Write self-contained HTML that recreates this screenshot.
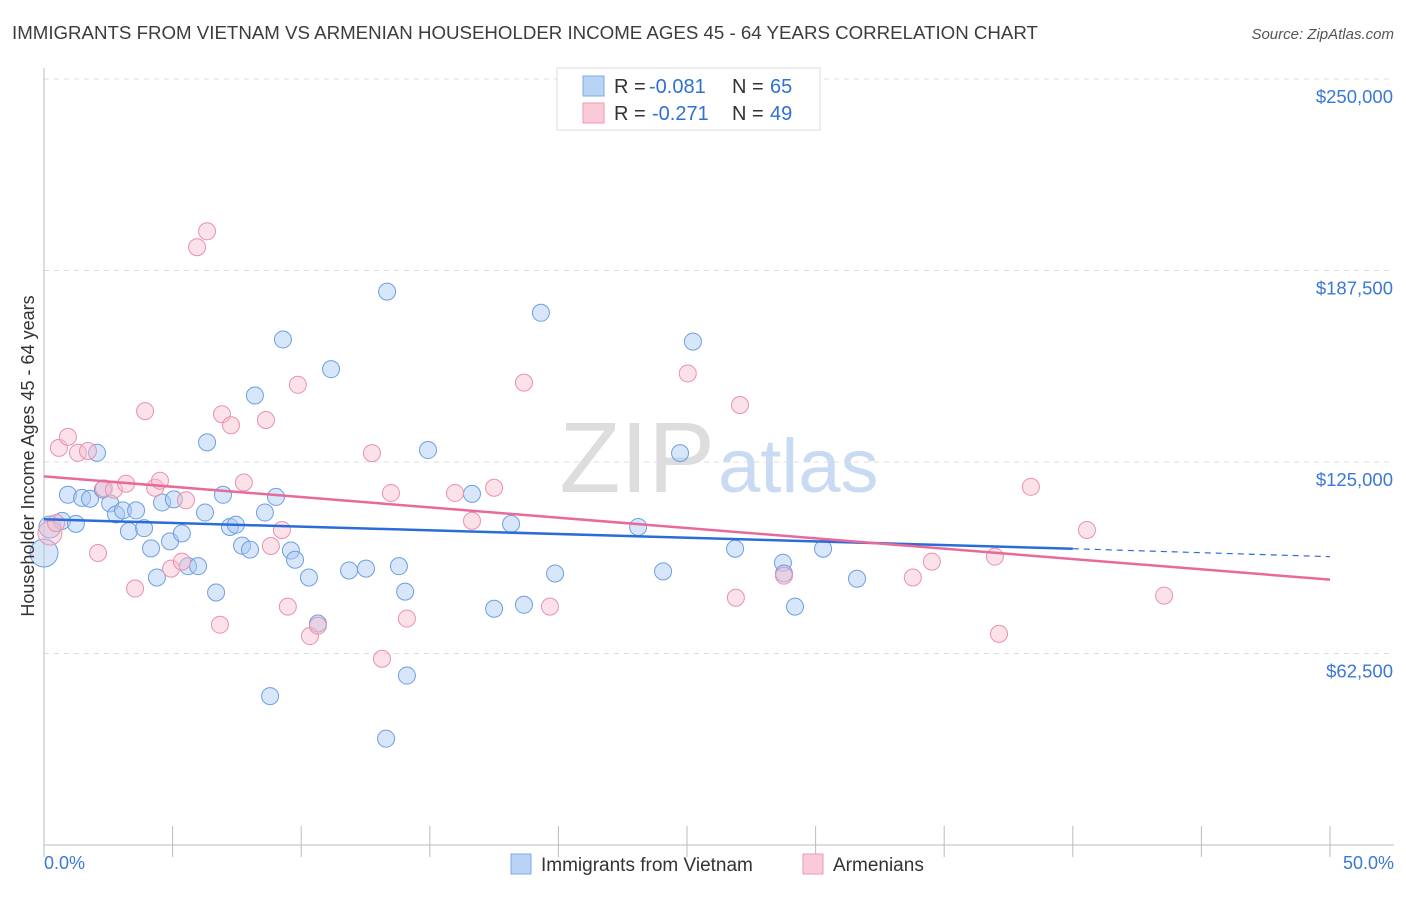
<!DOCTYPE html>
<html><head><meta charset="utf-8"><style>
body{margin:0;background:#fff;font-family:"Liberation Sans",sans-serif;}
svg text{font-family:"Liberation Sans",sans-serif;}
</style></head><body>
<svg id="c" width="1406" height="892">
<text x="12" y="39" font-size="18.7" fill="#3c3c3c">IMMIGRANTS FROM VIETNAM VS ARMENIAN HOUSEHOLDER INCOME AGES 45 - 64 YEARS CORRELATION CHART</text>
<text x="1394" y="39" font-size="15" fill="#555" font-style="italic" text-anchor="end">Source: ZipAtlas.com</text>
<text x="715" y="492" font-size="100" fill="#ddd" text-anchor="end" font-family="Liberation Serif">ZIP</text>
<text x="718" y="492" font-size="76" fill="#c8dbf2">atlas</text>
<g id="grid"></g><g id="axes"></g><g id="pts"></g><g id="lines"></g>
<text transform="translate(34,456) rotate(-90)" font-size="18" fill="#333" text-anchor="middle">Householder Income Ages 45 - 64 years</text>
<text x="44" y="869" font-size="18" fill="#3a78d8">0.0%</text>
<text x="1394" y="869" font-size="18" fill="#3a78d8" text-anchor="end">50.0%</text>
<g>
<rect x="557" y="68" width="263" height="62" fill="#fff" stroke="#ddd"/>
<rect x="583" y="76" width="21" height="20" fill="#b9d3f5" stroke="#7ea9e6"/>
<rect x="583" y="103" width="21" height="20" fill="#fbcad8" stroke="#ee9ab6"/>
<text x="614" y="93" font-size="20" fill="#333">R =</text>
<text x="649" y="93" font-size="20" fill="#2f6fd6">-0.081</text>
<text x="732" y="93" font-size="20" fill="#333">N =</text>
<text x="770" y="93" font-size="20" fill="#2f6fd6">65</text>
<text x="614" y="120" font-size="20" fill="#333">R =</text>
<text x="652" y="120" font-size="20" fill="#2f6fd6">-0.271</text>
<text x="732" y="120" font-size="20" fill="#333">N =</text>
<text x="770" y="120" font-size="20" fill="#2f6fd6">49</text>
</g>
<g>
<rect x="511" y="854" width="20" height="20" fill="#b9d3f5" stroke="#7ea9e6"/>
<text x="541" y="871" font-size="19" fill="#333">Immigrants from Vietnam</text>
<rect x="803" y="854" width="20" height="20" fill="#fbcad8" stroke="#ee9ab6"/>
<text x="833" y="871" font-size="19" fill="#333">Armenians</text>
</g>
</svg>
<script>
const yTicks=[62500,125000,187500,250000];
const yTickLabels=["$62,500","$125,000","$187,500","$250,000"];
const blueX=[0.23,0,0.7,0.93,1.24,1.48,1.79,2.06,2.29,2.57,2.8,3.07,3.3,3.58,3.89,4.16,4.39,4.59,4.9,5.05,5.36,5.6,5.99,6.26,6.34,6.69,6.96,7.23,7.46,7.7,8.01,8.2,8.59,9.02,9.29,9.6,9.76,10.3,10.65,11.16,11.86,12.52,13.34,13.8,14.04,14.11,13.3,8.79,14.93,16.64,17.5,18.16,18.66,19.32,19.87,23.1,24.07,24.73,25.23,26.87,28.73,28.77,29.2,30.29,31.61];
const blueY=[103800,95300,105800,114300,104800,113300,113000,128000,116000,111500,107900,109200,102400,109200,103400,96800,87300,111800,99100,112800,101700,91000,91000,108500,131400,82400,114300,103800,104500,97700,96400,146700,108500,113600,165000,96100,93100,87300,72300,155300,89600,90200,180600,91000,82700,55300,34700,48600,128900,114600,77100,104800,78400,173700,88600,103800,89300,127900,164300,96700,92100,88600,77800,96700,86900];
const pinkX=[0.23,0.47,0.58,0.93,1.32,1.71,2.1,2.33,2.72,3.19,3.54,3.93,4.32,4.51,4.94,5.36,5.52,5.95,6.34,6.84,6.92,7.27,7.77,8.63,8.82,9.25,9.48,9.87,10.34,10.65,12.75,13.14,13.49,14.11,15.98,16.64,17.5,18.66,19.67,25.03,26.9,27.06,28.77,33.78,34.52,36.97,37.13,38.37,40.55,43.55];
const pinkY=[101800,105100,129600,133200,128000,128600,95300,116400,116000,117900,83700,141600,116600,118900,90200,92500,112500,195100,200300,71900,140600,137000,118300,138700,97600,102800,77800,150200,68200,71600,127900,60800,114900,73900,114900,105800,116600,150900,77800,153900,80700,143600,87900,87300,92500,94100,68900,116900,102800,81400];
const X=v=>44+v/50*1286, Y=v=>845-v/250000*766;
const NS="http://www.w3.org/2000/svg";
function mk(p,t,a){const e=document.createElementNS(NS,t);for(const k in a)e.setAttribute(k,a[k]);document.getElementById(p).appendChild(e);return e;}
yTicks.forEach((t,i)=>{
 const g=mk('grid','line',{x1:44,x2:1394,y1:Y(t),y2:Y(t),stroke:'#dcdcdc','stroke-dasharray':'5,5'});
 
 
 const l=mk('grid','text',{x:1393,y:Y(t)+24,'font-size':18.5,fill:'#3a78d8','text-anchor':'end'});
 l.textContent=yTickLabels[i];
 
 
});
const ax=mk('axes','line',{x1:44,x2:44,y1:68,y2:845,stroke:'#bbb'});


const bx=mk('axes','line',{x1:44,x2:1394,y1:845,y2:845,stroke:'#bbb'});


for(let i=0;i<=10;i++){const t=mk('axes','line',{x1:X(i*5),x2:X(i*5),y1:826,y2:857,stroke:'#bbb'});
 
 }
function pts(xs,ys,f,s,name){xs.forEach((x,i)=>{const r=(i<2&&name==='blue-point')?(i==1?14:11):(i==0&&name==='pink-point'?12:8.5);
 const c=mk('pts','circle',{cx:X(x),cy:Y(ys[i]),r:r,fill:f,'fill-opacity':0.45,stroke:s,'stroke-width':1});
 
 });}
pts(blueX,blueY,'#a9c8f2','#6d9fe2','blue-point');
pts(pinkX,pinkY,'#f7bccd','#e991b0','pink-point');
const bl=mk('lines','line',{x1:X(0),y1:Y(106300),x2:X(40),y2:Y(96700),stroke:'#2a6dd9','stroke-width':2.5});


const bd=mk('lines','line',{x1:X(40),y1:Y(96700),x2:X(50),y2:Y(94100),stroke:'#2a6dd9','stroke-width':1.2,'stroke-dasharray':'6,5'});


const pl=mk('lines','line',{x1:X(0),y1:Y(120300),x2:X(50),y2:Y(86600),stroke:'#e8699a','stroke-width':2.5});


</script>
</body></html>
